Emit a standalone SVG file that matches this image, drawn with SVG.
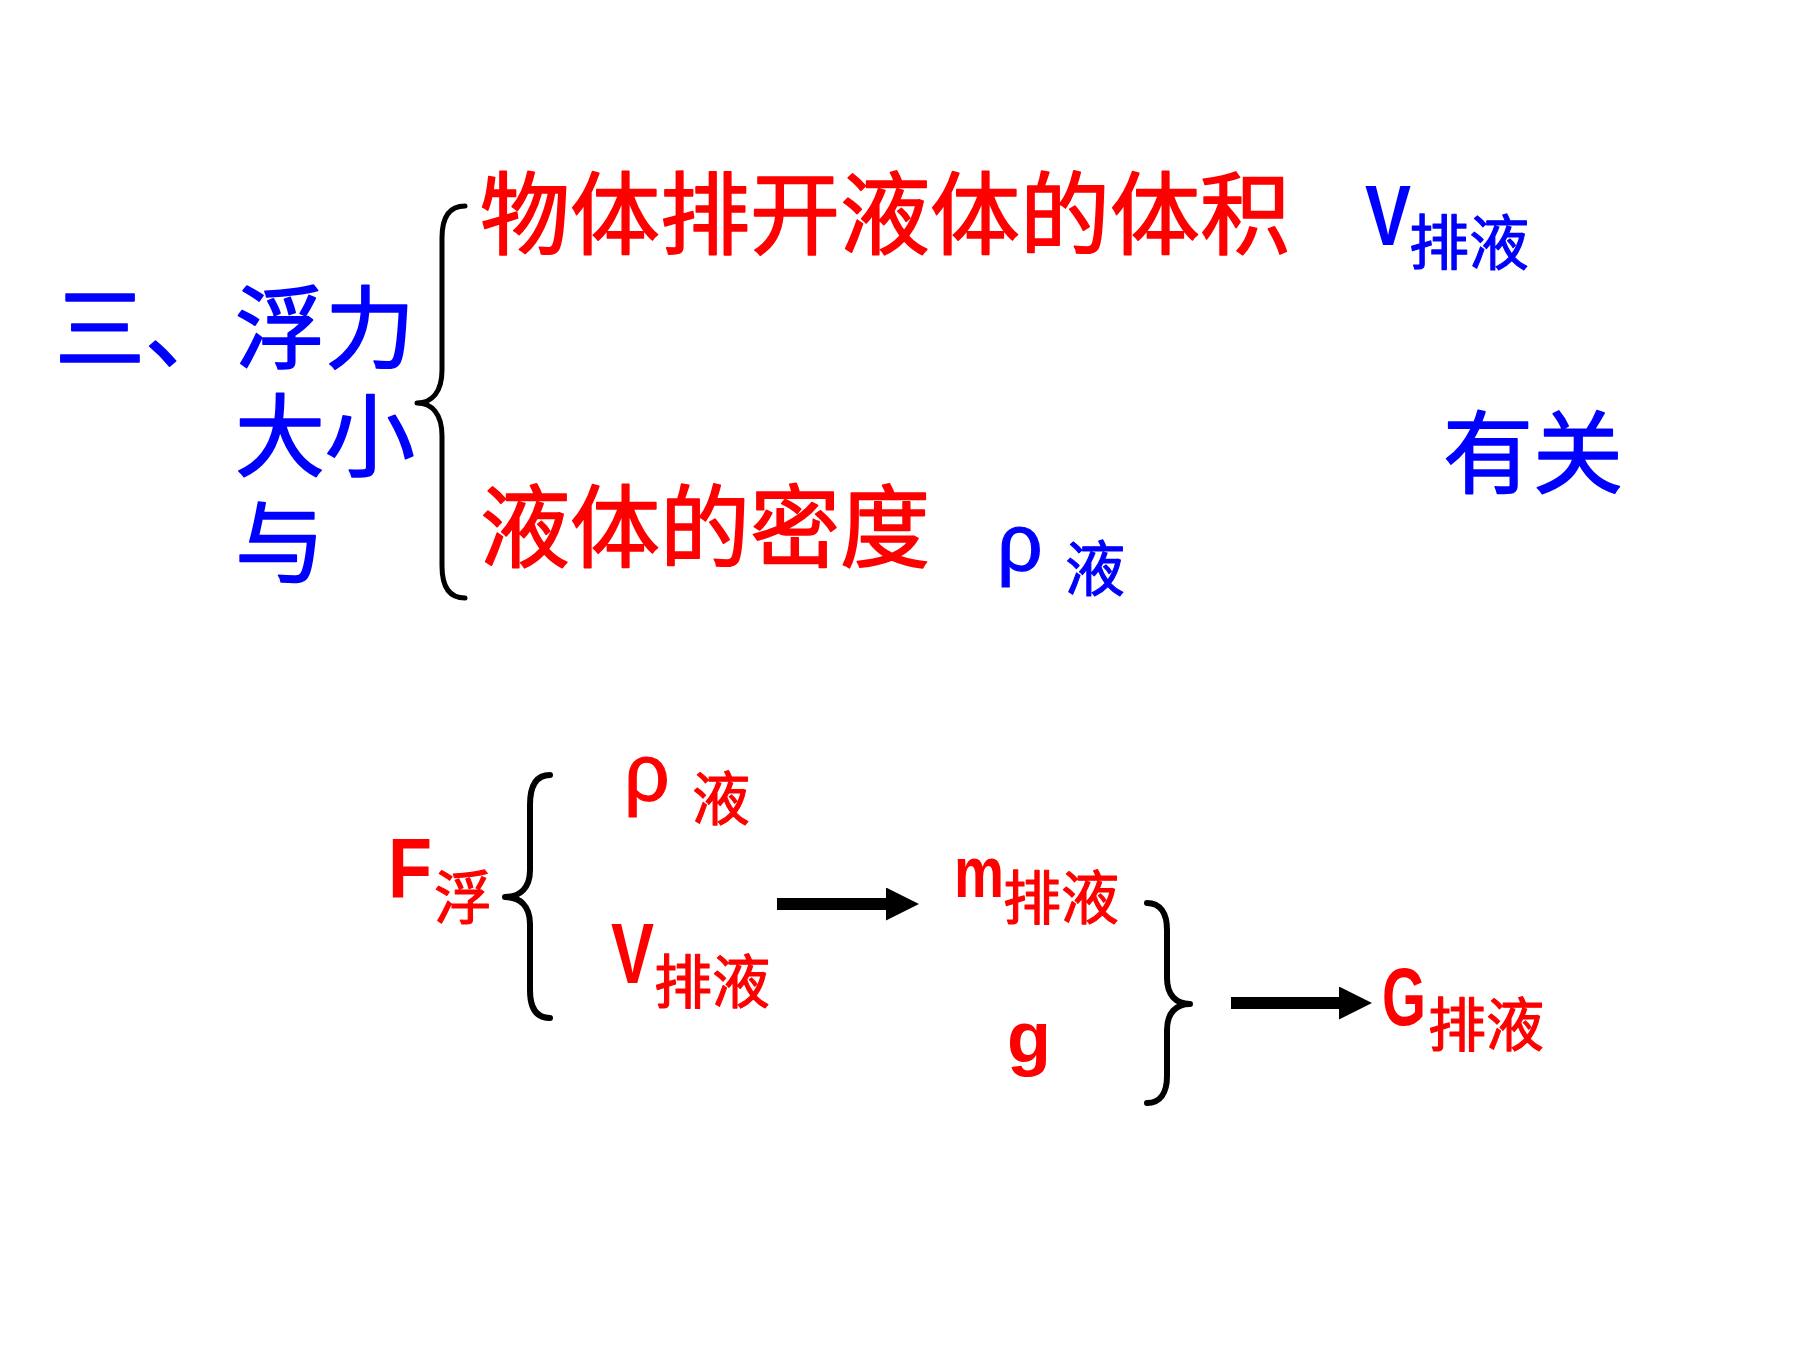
<svg xmlns="http://www.w3.org/2000/svg" width="1800" height="1350" viewBox="0 0 1800 1350">
<style>
  .cjk { font-family: "Noto Sans CJK SC", "Noto Sans", sans-serif; font-weight: 400; stroke-linejoin: round; }
  .big { stroke-width: 1.6; }
  .sub { stroke-width: 1.1; }
  .lat { font-family: "Liberation Sans", Arial, sans-serif; font-weight: 700; }
  .greek { font-family: "Liberation Sans", Arial, sans-serif; font-weight: 400; stroke-width: 1.2; }
  .blue { fill: #0000FF; stroke: #0000FF; }
  .red { fill: #FF0000; stroke: #FF0000; }
  .lat.blue, .lat.red { stroke: none; }
  .brace { fill: none; stroke: #000000; stroke-linecap: round; stroke-linejoin: round; }
  .shaft { stroke: #000000; stroke-width: 12; }
</style>
<defs>
  <marker id="arrowhead" markerUnits="userSpaceOnUse" markerWidth="34" markerHeight="34" refX="0" refY="16.5" orient="auto">
    <path d="M0,0 L33,16.5 L0,33 Z" fill="#000000"/>
  </marker>
</defs>
<rect x="0" y="0" width="1800" height="1350" fill="#FFFFFF"/>

<g id="title">
  <text class="cjk big blue" x="55" y="361" font-size="90">三、浮力</text>
  <text class="cjk big blue" x="235" y="469" font-size="90">大小</text>
  <text class="cjk big blue" x="235" y="576" font-size="90">与</text>
</g>

<g id="volume">
  <text class="cjk big red" x="480" y="247" font-size="90">物体排开液体的体积</text>
</g>

<g id="v-pai-ye-top">
  <text class="lat blue" x="1365" y="245" font-size="86" textLength="46" lengthAdjust="spacingAndGlyphs">V</text>
  <text class="cjk sub blue" x="1409" y="265" font-size="60">排液</text>
</g>

<g id="density">
  <text class="cjk big red" x="480" y="560" font-size="90">液体的密度</text>
</g>

<g id="rho-ye-top">
  <text class="greek blue" x="997" y="570" font-size="80">ρ</text>
  <text class="cjk sub blue" x="1065" y="591" font-size="60">液</text>
</g>

<g id="youguan">
  <text class="cjk big blue" x="1443" y="486" font-size="90">有关</text>
</g>

<g id="f-fu">
  <text class="lat red" x="388" y="898" font-size="85" textLength="44" lengthAdjust="spacingAndGlyphs">F</text>
  <text class="cjk sub red" x="434" y="919" font-size="58">浮</text>
</g>

<g id="rho-ye-bottom">
  <text class="greek red" x="624" y="800" font-size="80">ρ</text>
  <text class="cjk sub red" x="692" y="820" font-size="58">液</text>
</g>

<g id="v-pai-ye-bottom">
  <text class="lat red" x="611" y="983" font-size="85" textLength="43" lengthAdjust="spacingAndGlyphs">V</text>
  <text class="cjk sub red" x="654" y="1003" font-size="58">排液</text>
</g>

<g id="m-pai-ye">
  <text class="lat red" x="954" y="897" font-size="72" textLength="50" lengthAdjust="spacingAndGlyphs">m</text>
  <text class="cjk sub red" x="1003" y="919" font-size="58">排液</text>
</g>

<g id="g-const">
  <text class="lat red" x="1007" y="1062" font-size="72">g</text>
</g>

<g id="g-pai-ye">
  <text class="lat red" x="1382" y="1025" font-size="81" textLength="44" lengthAdjust="spacingAndGlyphs">G</text>
  <text class="cjk sub red" x="1428" y="1046" font-size="58">排液</text>
</g>

<g id="connectors">
  <path class="brace" stroke-width="5" d="M465,206 C449,206 442,218 442,238 L442,370 C442,392 432,403 417,403 C432,403 442,414 442,436 L442,566 C442,586 449,598 465,598"/>
  <path class="brace" stroke-width="6" d="M550,775 C536,775 530,786 530,805 L530,870 C530,888 520,897 505,897 C520,897 530,906 530,924 L530,990 C530,1008 536,1018 550,1018"/>
  <path class="brace" stroke-width="6" d="M1147,903 C1160,903 1167,913 1167,930 L1167,978 C1167,995 1176,1004 1190,1004 C1176,1004 1167,1013 1167,1030 L1167,1076 C1167,1093 1160,1103 1147,1103"/>
  <line class="shaft" x1="777" y1="904" x2="886" y2="904" marker-end="url(#arrowhead)"/>
  <line class="shaft" x1="1231" y1="1003" x2="1339" y2="1003" marker-end="url(#arrowhead)"/>
</g>
</svg>
